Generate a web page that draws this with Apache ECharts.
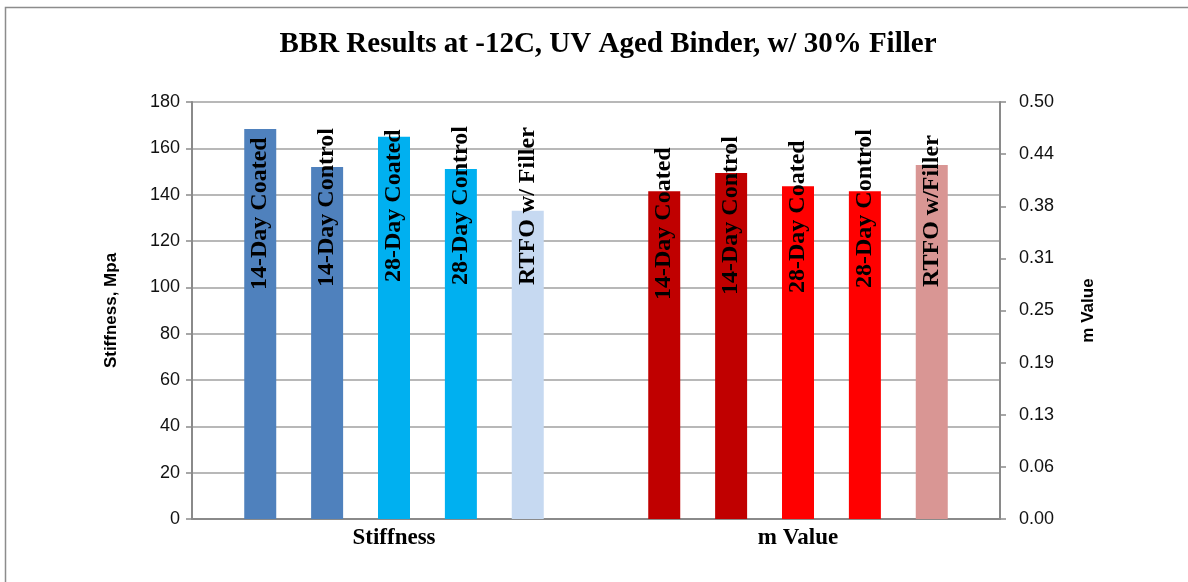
<!DOCTYPE html>
<html>
<head>
<meta charset="utf-8">
<title>BBR Results at -12C</title>
<script src="https://cdn.jsdelivr.net/npm/echarts@6/dist/echarts.min.js"></script>
<style>
  html, body { margin: 0; padding: 0; background: #ffffff; }
  #chart { width: 1188px; height: 582px; }
</style>
</head>
<body>
<div id="chart"></div>
<script>
// Groups on the category axis
const categories = ['Stiffness', 'm Value'];

// Sample names (printed inside each bar)
const sampleNames = ['14-Day Coated', '14-Day Control', '28-Day Coated', '28-Day Control', 'RTFO w/ Filler'];
const mSampleNames = ['14-Day Coated', '14-Day Control', '28-Day Coated', '28-Day Control', 'RTFO w/Filler'];

// Creep stiffness, MPa (left axis)
const stiffnessValues = [168.3, 151.9, 165.0, 151.1, 133.1];

// m-value (right axis)
const mValues = [0.393, 0.415, 0.399, 0.393, 0.4245];

// Right-axis tick labels
const mTickLabels = ['0.00', '0.06', '0.13', '0.19', '0.25', '0.31', '0.38', '0.44', '0.50'];

const stiffnessColors = ['#4F81BD', '#4F81BD', '#00B0F0', '#00B0F0', '#C6D9F1'];
const mColors = ['#C00000', '#C00000', '#FF0000', '#FF0000', '#D99694'];

// How far up from the baseline each rotated label starts
const stiffnessLabelLift = [229, 232, 237, 234, 234];
const mLabelLift = [219, 224, 226, 231, 232];

const serif = '"Liberation Serif", "Times New Roman", serif';
const sans = '"Liberation Sans", Arial, sans-serif';
const axisGray = '#8a8a8a';

function barLabel(lift) {
  return {
    show: true,
    position: 'insideBottom',
    distance: lift,
    rotate: 90,
    align: 'left',
    verticalAlign: 'middle',
    formatter: '{a}',
    fontFamily: serif,
    fontWeight: 'bold',
    fontSize: 24,
    color: '#000'
  };
}

const series = [];
sampleNames.forEach((name, i) => {
  series.push({
    name: name,
    type: 'bar',
    xAxisIndex: 0,
    yAxisIndex: 0,
    barWidth: 32,
    barGap: '109%',
    itemStyle: { color: stiffnessColors[i] },
    label: barLabel(stiffnessLabelLift[i]),
    data: [stiffnessValues[i], null]
  });
});
mSampleNames.forEach((name, i) => {
  series.push({
    name: name,
    type: 'bar',
    xAxisIndex: 1,
    yAxisIndex: 1,
    barWidth: 32,
    barGap: '109%',
    itemStyle: { color: mColors[i] },
    label: barLabel(mLabelLift[i]),
    data: [null, mValues[i]]
  });
});

const chart = echarts.init(document.getElementById('chart'), null, { renderer: 'canvas' });

chart.setOption({
  backgroundColor: '#ffffff',
  animation: false,
  title: {
    text: 'BBR Results at -12C, UV Aged Binder, w/ 30% Filler',
    left: 603,
    textAlign: 'center',
    top: 25,
    textStyle: {
      fontFamily: serif,
      fontWeight: 'bold',
      fontSize: 29,
      color: '#000'
    }
  },
  graphic: [{
    type: 'rect',
    shape: { x: 5.5, y: 7.5, width: 1300, height: 700 },
    style: { fill: 'none', stroke: '#8c8c8c', lineWidth: 1.5 },
    silent: true,
    z: -1
  }],
  grid: { left: 192, right: 188, top: 102, bottom: 63, containLabel: false },
  xAxis: [{
    type: 'category',
    data: categories,
    position: 'bottom',
    axisLine: { show: true, lineStyle: { color: axisGray, width: 2 } },
    axisTick: { show: false },
    axisLabel: {
      margin: 8,
      fontFamily: serif,
      fontWeight: 'bold',
      fontSize: 23,
      color: '#000'
    },
    splitLine: { show: false }
  }, {
    type: 'category',
    data: categories,
    show: false
  }],
  yAxis: [{
    type: 'value',
    min: 0,
    max: 180,
    interval: 20,
    name: 'Stiffness, Mpa',
    nameLocation: 'middle',
    nameRotate: 90,
    nameGap: 72,
    nameTextStyle: { fontFamily: sans, fontWeight: 'bold', fontSize: 17, color: '#000' },
    axisLine: { show: true, lineStyle: { color: axisGray, width: 2 } },
    axisTick: { show: true, inside: false, length: 6, lineStyle: { color: axisGray, width: 1.5 } },
    axisLabel: { margin: 12, fontFamily: sans, fontSize: 18, color: '#111' },
    splitLine: { show: true, lineStyle: { color: '#a0a0a0', width: 1.5 } }
  }, {
    type: 'value',
    min: 0,
    max: 0.5,
    interval: 0.0625,
    position: 'right',
    name: 'm Value',
    nameLocation: 'middle',
    nameRotate: 90,
    nameGap: 80,
    nameTextStyle: { fontFamily: sans, fontWeight: 'bold', fontSize: 17, color: '#000' },
    axisLine: { show: true, lineStyle: { color: axisGray, width: 2 } },
    axisTick: { show: true, inside: false, length: 6, lineStyle: { color: axisGray, width: 1.5 } },
    axisLabel: {
      margin: 19,
      fontFamily: sans,
      fontSize: 18,
      color: '#111',
      formatter: v => mTickLabels[Math.round(v / 0.0625)]
    },
    splitLine: { show: false }
  }],
  series: series
});
</script>
</body>
</html>
